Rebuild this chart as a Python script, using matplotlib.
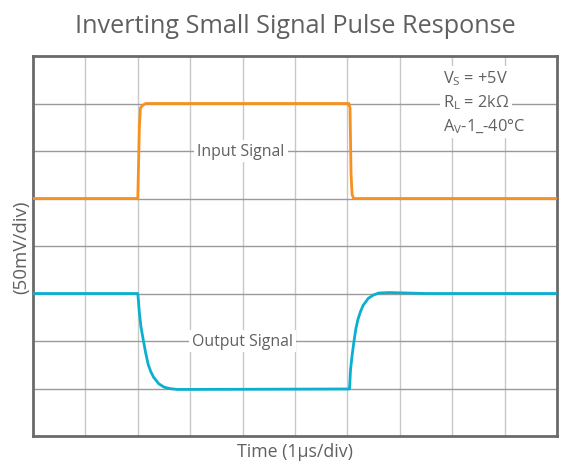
import matplotlib.pyplot as plt

# input pulse (divisions)
in_x = [0, 2.0, 2.03, 2.05, 2.08, 2.15, 6.03, 6.05, 6.07, 6.09, 6.12, 10]
in_y = [5.0, 5.0, 6.5, 6.9, 6.95, 7.0, 7.0, 6.9, 5.5, 5.08, 5.0, 5.0]

# output (inverted, settling)
out_x = [0, 2.0, 2.03, 2.06, 2.1, 2.15, 2.2, 2.25, 2.3, 2.4, 2.5, 2.6, 2.75,
         6.04, 6.06, 6.09, 6.12, 6.16, 6.2, 6.25, 6.3, 6.4, 6.5, 6.6, 6.8, 7.5, 10]
out_y = [3.0, 3.0, 2.6, 2.3, 2.05, 1.75, 1.5, 1.35, 1.24, 1.1, 1.03, 1.0, 0.98,
         0.99, 1.4, 1.7, 1.95, 2.25, 2.45, 2.62, 2.75, 2.9, 2.97, 3.01, 3.02, 3.0, 3.0]

gray = '#606060'
plt.rcParams['font.family'] = ['Open Sans', 'DejaVu Sans']

fig = plt.figure(figsize=(5.64, 4.64), dpi=100)
ax = fig.add_axes([33/564, 1-437/464, 524/564, 380/464])

for i in range(1, 10):
    ax.axvline(i, color='#c8c8c8', lw=1, zorder=1)
for j in range(1, 8):
    ax.axhline(j, color='#9a9a9a', lw=1, zorder=1)

ax.plot(in_x, in_y, color='#f7901e', lw=2, zorder=3)
ax.plot(out_x, out_y, color='#0ab0d0', lw=2, zorder=3)

ax.set_xlim(0, 10)
ax.set_ylim(0, 8)
ax.set_xticks([])
ax.set_yticks([])
for s in ax.spines.values():
    s.set_color('#6a6a6a')
    s.set_linewidth(2)

box = dict(facecolor='white', edgecolor='none', pad=2)
ax.text(3.97, 6.0, 'Input Signal', ha='center', va='center', fontsize=11.4,
        color=gray, bbox=box, zorder=2)
ax.text(4.0, 2.0, 'Output Signal', ha='center', va='center', fontsize=11.4,
        color=gray, bbox=box, zorder=2)

ax.text(7.82, 7.54, r'V$_\mathregular{S}$ = +5V', ha='left', va='center',
        fontsize=11.8, color=gray, bbox=box, zorder=2)
ax.text(7.82, 7.03, r'R$_\mathregular{L}$ = 2kΩ', ha='left', va='center',
        fontsize=11.8, color=gray, bbox=box, zorder=2)
ax.text(7.82, 6.53, r'A$_\mathregular{V}$-1_-40°C', ha='left', va='center',
        fontsize=11.8, color=gray, bbox=box, zorder=2)

fig.text(295/564, 1-33/464, 'Inverting Small Signal Pulse Response', ha='center',
         va='baseline', fontsize=18.2, color=gray)
ax.set_xlabel('Time (1µs/div)', fontsize=12.8, color=gray, labelpad=4)
ax.set_ylabel('(50mV/div)', fontsize=13.5, color=gray, labelpad=2)

fig.savefig('out.png', dpi=100)
